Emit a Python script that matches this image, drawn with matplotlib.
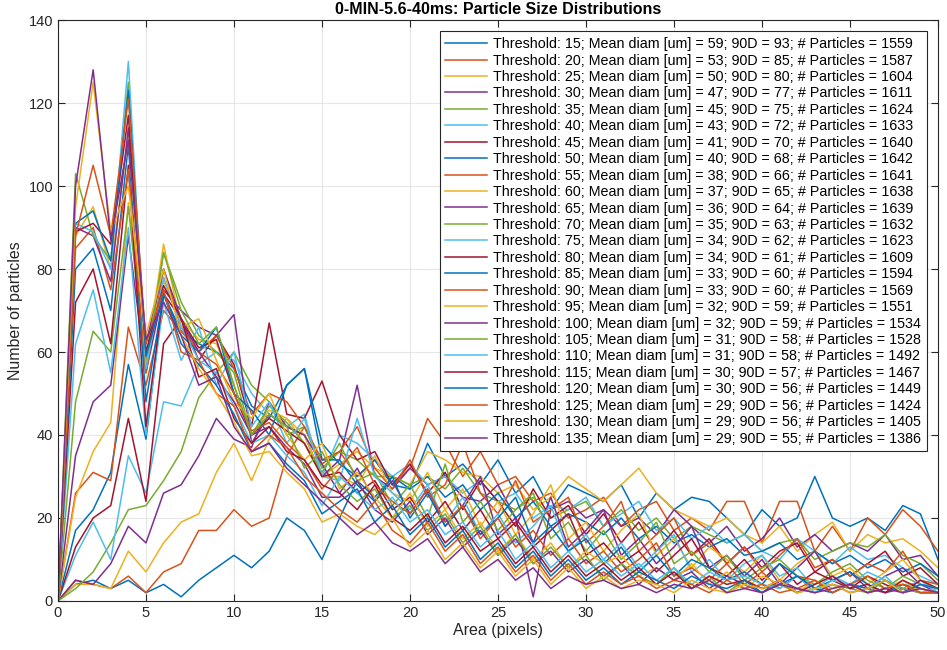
import matplotlib
matplotlib.use("Agg")
import matplotlib.pyplot as plt
import numpy as np

plt.rcParams['font.family'] = ['Liberation Sans', 'DejaVu Sans']

area = list(range(0, 51))
thresholds = [15, 20, 25, 30, 35, 40, 45, 50, 55, 60, 65, 70, 75, 80, 85, 90, 95, 100, 105, 110, 115, 120, 125, 130, 135]
mean_diam = [59, 53, 50, 47, 45, 43, 41, 40, 38, 37, 36, 35, 34, 34, 33, 33, 32, 32, 31, 31, 30, 30, 29, 29, 29]
d90 = [93, 85, 80, 77, 75, 72, 70, 68, 66, 65, 64, 63, 62, 61, 60, 60, 59, 59, 58, 58, 57, 56, 56, 56, 55]
n_particles = [1559, 1587, 1604, 1611, 1624, 1633, 1640, 1642, 1641, 1638, 1639, 1632, 1623, 1609, 1594, 1569, 1551, 1534, 1528, 1492, 1467, 1449, 1424, 1405, 1386]

t15 = [0,4,5,3,5,2,4,1,5,8,11,8,12,20,17,10,
       20,29,25,30,27,38,30,33,28,34,26,30,22,28,26,
       24,28,20,26,22,25,24,20,16,22,18,20,30,20,18,20,17,23,21,10]
t20 = [0,5,4,3,6,2,7,9,17,17,22,18,20,35,42,33,
       36,30,34,28,32,44,38,30,36,28,30,24,26,20,22,
       25,18,22,24,17,20,17,24,24,14,24,24,12,18,12,20,16,22,18,12]
t25 = [0,4,4,3,12,7,14,19,21,31,38,29,39,44,38,30,
       33,36,32,30,28,36,34,31,30,26,28,22,25,30,27,
       24,28,32,26,22,20,18,20,16,14,18,12,16,19,12,16,14,15,12,8]
t30 = [0,5,4,9,18,14,26,28,35,44,39,37,48,42,40,30,
       34,52,30,27,32,28,30,25,24,28,20,1,22,24,20,
       22,18,20,16,22,18,14,18,12,15,20,13,16,12,14,12,16,10,11,6]
t35 = [0,3,7,14,22,23,29,36,49,55,60,52,48,40,42,32,
       36,34,30,30,28,30,27,32,26,24,22,25,20,22,24,
       18,22,17,20,15,18,16,14,16,12,14,15,10,12,14,13,16,11,9,5]
t40 = [0,11,19,10,35,26,48,47,57,60,58,50,45,42,45,30,
       40,38,34,30,33,28,30,26,29,24,26,20,23,22,25,
       18,21,24,17,20,15,18,14,16,12,10,15,12,9,13,10,11,8,6,4]
t45 = [0,13,20,23,44,24,62,68,58,64,57,42,67,45,44,53,
       40,34,36,28,33,26,31,22,29,24,18,27,20,23,16,
       21,14,19,12,17,11,15,9,13,8,12,14,7,10,6,9,12,6,8,4]
t50 = [0,17,22,31,57,39,74,65,62,60,56,47,44,52,56,38,
       33,30,34,28,27,30,25,28,22,26,20,24,18,21,19,
       16,20,15,18,14,16,13,15,11,12,14,10,12,9,11,8,10,7,9,6]
t55 = [0,26,31,29,66,52,70,65,60,64,56,45,50,48,42,34,
       36,42,32,27,34,25,28,38,26,21,29,19,22,25,14,
       18,24,12,16,20,11,14,9,13,7,11,15,8,10,6,9,7,12,5,4]
t60 = [0,25,36,43,96,58,77,68,63,62,52,40,46,44,40,30,
       30,28,35,26,24,31,22,27,18,24,16,21,28,15,19,
       12,17,21,11,15,8,13,10,7,11,5,9,12,6,8,4,7,10,5,3]
t65 = [0,35,48,52,88,55,75,70,66,64,69,38,45,42,40,33,
       26,32,24,29,21,27,18,23,30,16,20,14,25,13,17,
       22,11,15,9,13,18,8,11,6,10,4,8,12,5,7,3,6,8,4,2]
t70 = [0,48,65,60,95,55,84,72,64,60,55,40,47,43,38,31,
       38,29,31,23,28,20,33,19,24,17,22,26,15,19,12,
       17,10,14,19,9,12,7,11,5,8,10,6,4,7,9,5,3,6,4,3]
t75 = [0,62,75,55,90,40,72,58,66,52,60,42,48,38,44,30,
       29,44,30,26,22,28,19,25,16,21,14,18,23,12,16,
       10,14,8,12,16,7,10,5,9,11,6,8,3,6,4,7,5,3,5,2]
t80 = [0,72,80,62,105,42,74,68,61,63,50,40,44,41,38,30,
       31,26,29,22,25,19,24,17,22,15,19,13,17,21,11,
       14,9,12,7,11,15,8,6,10,5,9,4,7,5,3,6,4,2,5,3]
t85 = [0,80,85,70,110,48,74,64,60,66,50,46,40,52,56,34,
       34,28,24,30,20,26,18,23,16,20,25,14,18,12,15,
       9,13,7,11,6,10,8,5,7,4,9,6,3,5,7,4,2,4,3,2]
t90 = [0,85,90,75,104,55,80,66,60,57,50,41,43,38,34,27,
       32,37,28,24,21,27,19,23,15,20,13,17,11,15,9,
       12,7,10,14,6,8,5,9,4,7,3,6,5,2,4,6,3,4,2,2]
t95 = [0,88,95,80,112,58,86,66,68,58,48,44,50,40,34,38,
       27,31,25,20,26,18,22,15,19,12,16,10,14,8,12,
       9,11,6,8,5,9,4,7,3,6,4,2,5,3,4,2,3,5,2,3]
t100 = [0,90,88,77,114,62,80,68,60,54,48,40,42,37,33,25,
        25,29,22,19,24,16,20,13,17,11,15,9,12,7,10,
        6,9,4,8,5,7,3,6,4,2,5,3,2,4,2,3,2,3,2,2]
t105 = [0,103,88,82,125,58,84,70,62,66,52,40,45,42,32,36,
        28,24,27,20,23,17,21,14,18,11,16,9,13,8,11,
        5,9,6,4,8,3,6,2,5,3,4,2,3,4,3,2,5,3,2,2]
t110 = [0,91,89,80,130,56,78,66,58,55,47,38,40,35,31,23,
        30,26,22,25,19,22,16,19,13,17,10,14,8,12,7,
        10,6,9,5,8,4,7,5,6,4,3,6,2,5,4,3,6,2,4,3]
t115 = [0,89,91,86,117,60,76,68,54,56,44,38,42,36,34,28,
        26,22,28,20,17,21,14,18,12,15,9,13,7,11,6,
        9,5,8,4,7,3,6,4,5,3,5,2,4,6,3,4,2,5,3,2]
t120 = [0,91,94,82,123,59,74,62,57,52,45,36,38,33,29,21,
        24,27,19,23,16,20,13,17,10,14,8,12,6,10,5,
        8,4,7,5,3,6,4,3,5,2,4,6,3,2,4,3,5,2,4,3]
t125 = [0,88,105,88,121,62,75,60,58,50,47,36,40,37,30,26,
        22,19,24,17,14,19,12,16,9,13,7,11,5,9,4,
        7,4,6,3,5,4,2,5,3,4,2,3,5,2,4,2,3,4,2,2]
t130 = [0,95,125,89,100,64,80,64,56,50,43,35,36,31,27,19,
        21,18,16,20,13,17,10,14,8,12,6,10,4,8,3,
        6,3,5,4,2,5,3,2,4,3,5,2,3,4,2,3,5,2,3,2]
t135 = [0,100,128,87,111,63,72,64,52,54,42,36,38,32,28,24,
        20,16,19,14,12,15,9,13,7,10,5,8,3,6,4,
        5,3,4,2,4,3,5,2,3,2,4,3,2,3,4,2,3,2,3,2]

series = [t15, t20, t25, t30, t35, t40, t45, t50, t55, t60, t65, t70, t75,
          t80, t85, t90, t95, t100, t105, t110, t115, t120, t125, t130, t135]

colors = ['#0072BD', '#D95319', '#EDB120', '#7E2F8E', '#77AC30', '#4DBEEE', '#A2142F']

fig = plt.figure(figsize=(9.47, 6.5), dpi=100)
ax = fig.add_axes([0.0612, 0.0754, 0.9293, 0.8938])

for i, (thr, md, d, n, ys) in enumerate(zip(thresholds, mean_diam, d90, n_particles, series)):
    lbl = f"Threshold: {thr}; Mean diam [um] = {md}; 90D = {d}; # Particles = {n}"
    ax.plot(area[:len(ys)], ys, color=colors[i % 7], lw=1.1, label=lbl)

ax.set_xlim(0, 50)
ax.set_ylim(0, 140)
ax.set_xticks(np.arange(0, 51, 5))
ax.set_yticks(np.arange(0, 141, 20))
ax.grid(True, color='#e6e6e6', lw=0.8)
ax.set_axisbelow(True)
ax.tick_params(direction='in', top=True, right=True, length=5, colors='#262626', labelsize=10.5)
for s in ax.spines.values():
    s.set_color('#262626')
    s.set_linewidth(0.8)
ax.set_xlabel('Area (pixels)', fontsize=11.5, color='#262626', labelpad=2)
ax.set_ylabel('Number of particles', fontsize=11.5, color='#262626', labelpad=4)
ax.set_title('0-MIN-5.6-40ms: Particle Size Distributions', fontsize=11.5, fontweight='bold', pad=4)

leg = ax.legend(loc='upper right', fontsize=10.3, labelspacing=0.17, handlelength=2.9,
                handletextpad=0.42, borderpad=0.4, borderaxespad=0.8, fancybox=False,
                framealpha=1, edgecolor='#262626')
leg.get_frame().set_linewidth(0.8)

fig.savefig('out.png', dpi=100)
